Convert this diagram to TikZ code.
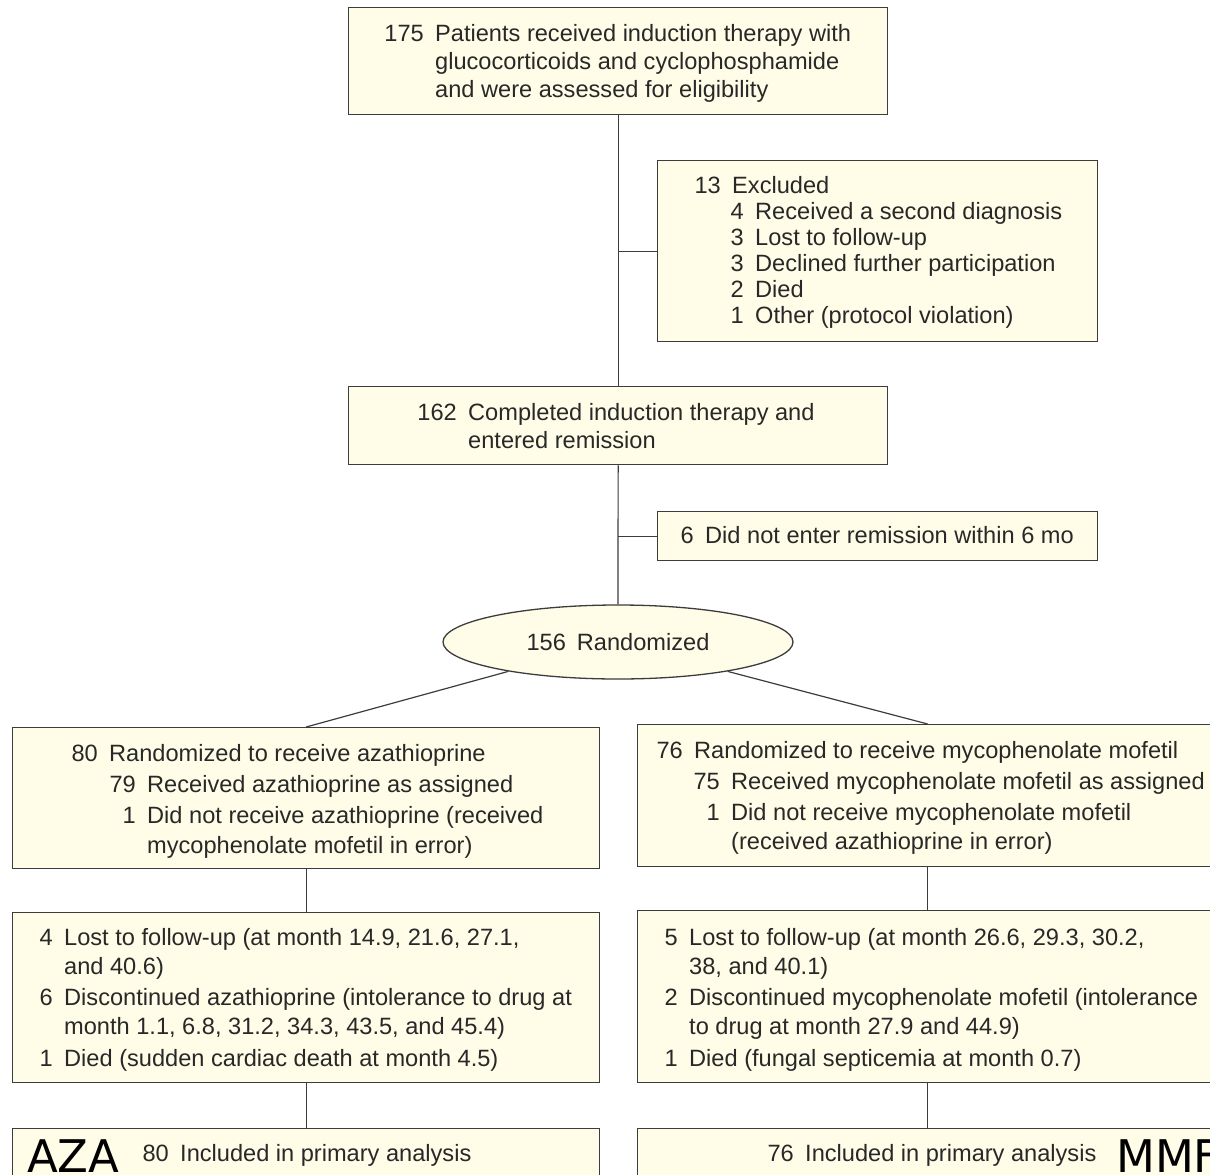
\documentclass[tikz,border=0pt]{standalone}
\usepackage{fontspec}
\setmainfont{Liberation Sans}
\newfontfamily\labelfont{DejaVu Sans}
\usetikzlibrary{shapes.geometric}
\definecolor{boxfill}{RGB}{255,253,231}
\definecolor{boxline}{RGB}{60,60,60}
\definecolor{ink}{RGB}{40,40,40}
\tikzset{
  box/.style={draw=boxline, fill=boxfill, line width=1.3pt, inner sep=0pt, anchor=north west},
  link/.style={draw=boxline, line width=1.2pt},
  txt/.style={text=ink, inner sep=0pt, font=\fontsize{23.6}{28}\selectfont},
  num/.style={txt, anchor=base east},
  body/.style={txt, anchor=base west},
  arm/.style={text=black, inner sep=0pt, font=\labelfont\fontsize{45}{50}\selectfont, anchor=base west},
}
% a count right-aligned at x=#2, its description 11pt to the right, on baseline #3
\newcommand\entry[5]{\node[num] (#1n) at (#2,#3) {#4};\node[body] (#1t) at (#2+11,#3) {#5};}
% a continuation line starting at x=#2 on baseline #3
\newcommand\more[4]{\node[body] (#1) at (#2,#3) {#4};}

\begin{document}
\begin{tikzpicture}[x=1pt,y=-1pt]
\useasboundingbox (0,0) rectangle (1210,1175);
\clip (0,0) rectangle (1210,1175);

% boxes
\node[box,minimum width=539pt,minimum height=107pt] (top) at (348,7) {};
\node[box,minimum width=440pt,minimum height=181pt] (excl) at (657,160) {};
\node[box,minimum width=539pt,minimum height=78pt] (compl) at (348,386) {};
\node[box,minimum width=440pt,minimum height=49pt] (norem) at (657,511) {};
\node[ellipse, draw=boxline, fill=boxfill, line width=1.3pt, minimum width=350pt,
      minimum height=74pt, inner sep=0pt, txt] (rand) at (618,642) {156\hspace{11pt}Randomized};
\node[box,minimum width=587pt,minimum height=141pt] (aza1) at (12,727) {};
\node[box,minimum width=580pt,minimum height=142pt] (mmf1) at (637,724) {};
\node[box,minimum width=587pt,minimum height=170pt] (aza2) at (12,912) {};
\node[box,minimum width=580pt,minimum height=172pt] (mmf2) at (637,910) {};
\node[box,minimum width=587pt,minimum height=90pt] (aza3) at (12,1128) {};
\node[box,minimum width=580pt,minimum height=90pt] (mmf3) at (637,1128) {};

% connectors
\draw[link] (top.south) -- (compl.north);
\draw[link] (compl.south) -- (rand.north);
\draw[link] (excl.west) -- (excl.west -| top.south);
\draw[link] (norem.west) -- (norem.west -| compl.south);
\draw[link] (rand.195) -- (aza1.north);
\draw[link] (rand.345) -- (mmf1.north);
\draw[link] (aza1.south) -- (aza2.north);
\draw[link] (mmf1.south) -- (mmf2.north);
\draw[link] (aza2.south) -- (aza3.north);
\draw[link] (mmf2.south) -- (mmf3.north);

% texts
\entry{a}{424}{41}{175}{Patients received induction therapy with}
\more{a2}{435}{69}{glucocorticoids and cyclophosphamide}
\more{a3}{435}{97}{and were assessed for eligibility}

\entry{b}{721}{193}{13}{Excluded}
\entry{b1}{744}{219}{4}{Received a second diagnosis}
\entry{b2}{744}{245}{3}{Lost to follow-up}
\entry{b3}{744}{271}{3}{Declined further participation}
\entry{b4}{744}{297}{2}{Died}
\entry{b5}{744}{323}{1}{Other (protocol violation)}

\entry{c}{457}{420}{162}{Completed induction therapy and}
\more{c2}{468}{448}{entered remission}

\entry{d}{694}{543}{6}{Did not enter remission within 6 mo}

\entry{e}{98}{761}{80}{Randomized to receive azathioprine}
\entry{e1}{136}{792}{79}{Received azathioprine as assigned}
\entry{e2}{136}{823}{1}{Did not receive azathioprine (received}
\more{e3}{147}{853}{mycophenolate mofetil in error)}

\entry{f}{683}{758}{76}{Randomized to receive mycophenolate mofetil}
\entry{f1}{720}{789}{75}{Received mycophenolate mofetil as assigned}
\entry{f2}{720}{820}{1}{Did not receive mycophenolate mofetil}
\more{f3}{731}{849}{(received azathioprine in error)}

\entry{g1}{53}{945}{4}{Lost to follow-up (at month 14.9, 21.6, 27.1,}
\more{g2}{64}{974}{and 40.6)}
\entry{g3}{53}{1005}{6}{Discontinued azathioprine (intolerance to drug at}
\more{g4}{64}{1034}{month 1.1, 6.8, 31.2, 34.3, 43.5, and 45.4)}
\entry{g5}{53}{1066}{1}{Died (sudden cardiac death at month 4.5)}

\entry{h1}{678}{945}{5}{Lost to follow-up (at month 26.6, 29.3, 30.2,}
\more{h2}{689}{974}{38, and 40.1)}
\entry{h3}{678}{1005}{2}{Discontinued mycophenolate mofetil (intolerance}
\more{h4}{689}{1034}{to drug at month 27.9 and 44.9)}
\entry{h5}{678}{1066}{1}{Died (fungal septicemia at month 0.7)}

\entry{i}{169}{1161}{80}{Included in primary analysis}
\entry{j}{794}{1161}{76}{Included in primary analysis}
\node[arm] (azalabel) at (27,1172) {AZA};
\node[arm] (mmflabel) at (1116,1172) {MMF};
\end{tikzpicture}
\end{document}
